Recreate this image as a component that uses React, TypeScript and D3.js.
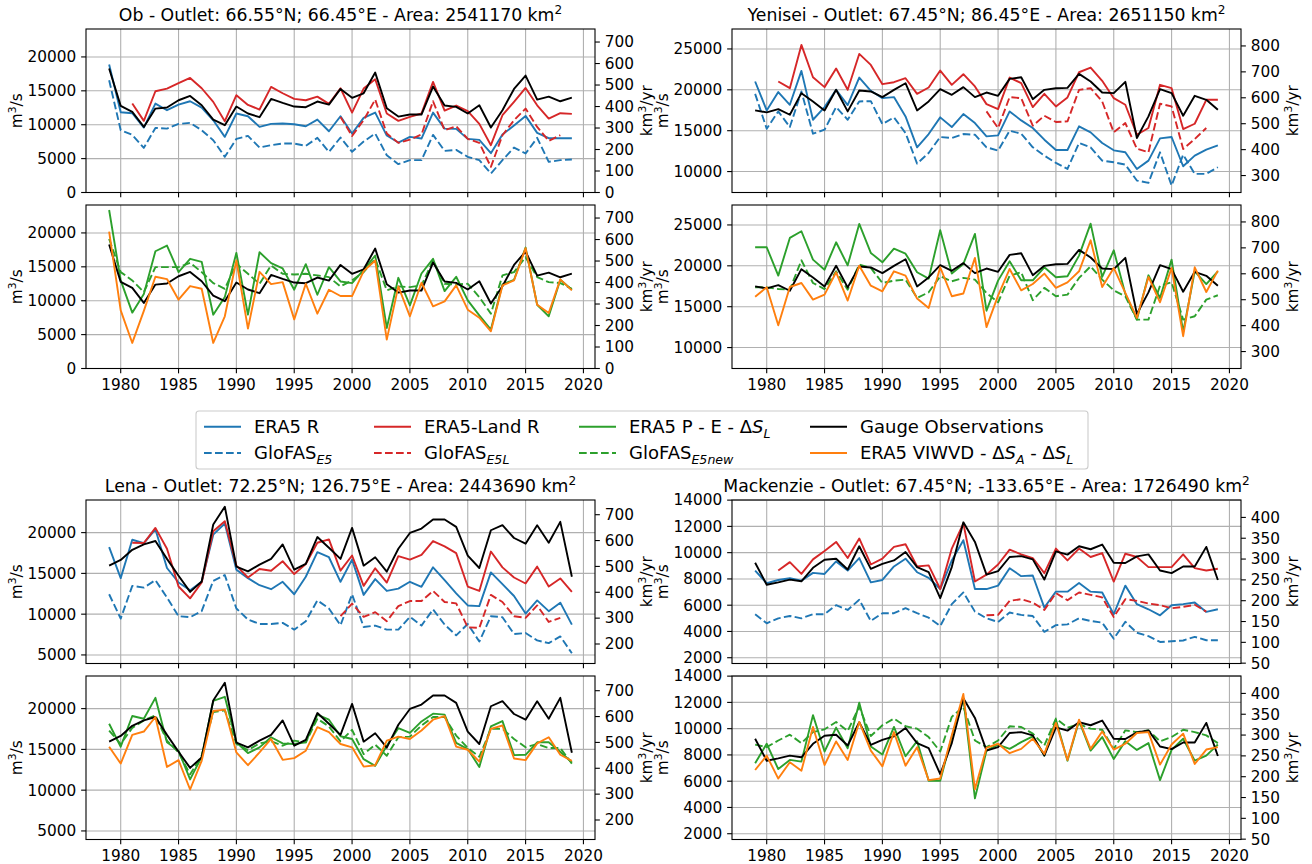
import * as d3 from "d3";

// ---- data, m3/s, 1979-2019 ----
const years = d3.range(1979, 2020);
const xTicks = [1980, 1985, 1990, 1995, 2000, 2005, 2010, 2015, 2020];

// Ob
const obGauge = [18280,12780,11890,9680,12380,12530,13610,14250,12870,10760,9930,12680,11650,11110,13810,13220,12680,12580,13420,12970,15280,13960,14640,17690,12430,11200,11500,11500,15630,12830,12630,11650,12870,9580,12140,15280,17250,13710,14150,13460,14000];
const obEra5R = [18870,11840,11700,9580,13120,12140,12970,13460,12530,10660,8210,11650,11250,9680,10120,10170,10070,9780,10760,9040,11250,8700,11010,11790,8400,7370,8210,7960,11790,9430,9390,7910,7760,5800,8550,9880,11300,8800,8010,8010,8010];
const obEra5LandR = [null,null,13120,10570,14940,15330,16120,16900,15380,13370,10520,14350,12920,12240,15580,14640,13810,13610,14150,13070,15380,11790,15330,16710,11650,10570,11150,11650,16310,12090,12830,11990,10120,6980,11400,13370,15430,12870,10910,11700,11600];
const obGlofasE5 = [16560,9190,8500,6580,9530,9430,10120,10270,9190,7720,5260,7910,8350,6630,6980,7220,7220,6880,8060,6000,8110,6000,7520,8700,5500,4180,4770,4770,8500,6140,6290,5260,4770,2800,4770,6630,5750,8060,4520,4770,4860];
const obGlofasE5L = [11150,8350,10660,13710,8700,7320,7810,8550,13460,9190,9780,7910,7320,3780,8450,10660,12380,9680,7620,8450]; // 1999-2018
const obPE = [23380,12990,8240,11000,17300,18140,14220,16180,15740,7940,10540,17060,7940,17160,15540,14760,11620,15390,10880,14950,12840,12600,14560,16670,5980,13380,9310,14020,16180,11420,13530,10050,7840,5740,12400,13090,17840,9410,7700,13090,11620];
const obGlofasE5new = [19120,14220,12990,11270,14950,14950,14950,15590,14220,12600,11760,15440,13970,12500,15200,13970,13870,13970,13730,13480,12110,12990,14220,16180,11520,12110,12010,12260,15930,12500,12400,12500,10540,8090,13730,14220,16420,13480,12740,12600,11760];
const obViwvd = [20200,8580,3770,8500,13530,13190,10150,12160,11760,3770,7700,15930,5880,14260,12450,12740,7250,12500,8090,11620,10690,10690,14360,15930,4260,12110,7700,12650,9170,9900,12260,8680,7500,5490,12260,12990,17750,9410,8190,13140,11520];

// Yenisei
const yenGauge = [17480,17240,17640,16950,19590,18580,17480,20000,17360,19920,19800,19110,20000,20810,17480,18580,20080,19390,20330,19110,19670,19270,21340,21540,18860,20000,20200,20240,21950,21020,19670,19590,20980,14110,16750,20080,19590,16830,19270,18780,17560];
const yenEra5R = [21020,17480,19720,18170,22320,16340,17890,20000,18130,21500,19880,18980,19110,16750,12970,14590,16630,15450,17030,15930,14310,14430,17360,16260,15330,13900,12640,12640,15530,14800,13500,12600,12360,10320,11340,14060,14230,10650,11950,12680,13210];
const yenEra5LandR = [null,null,21020,20200,25490,21540,20330,22600,20000,24390,23050,20690,20930,21420,19510,20280,22360,20610,21910,20410,18250,17640,21500,20810,17890,19510,17970,19070,22150,22720,21100,18980,18170,14510,15330,20610,20200,15200,15850,18780,18780];
const yenGlofasE5 = [19510,15240,17360,15450,19800,14630,15120,17890,16340,18580,18620,15810,16630,14710,10980,12280,14230,14110,14590,14510,12970,12560,15000,14630,12970,11950,11060,10320,13500,12970,11340,11140,10850,8900,8620,12360,8290,12070,9720,9720,10530];
const yenGlofasE5L = [17360,15330,19110,18980,15610,16830,16060,16140,20000,20200,18580,14800,15930,12800,12360,18290,17970,12760,13980,15330];
const yenPE = [22270,22270,18800,23410,24230,20760,19530,22880,20060,25120,21580,20430,22100,21490,19210,18430,24350,19050,20230,23900,14510,18190,20550,18230,18230,19820,18600,18720,21250,25160,18640,21900,16560,13420,18840,16070,20760,11910,19330,17770,19330];
const yenGlofasE5new = [17370,17370,17160,17080,20680,17900,17160,19330,17080,20150,19740,17900,18190,18310,16070,16760,18720,18110,18520,18310,16680,15540,18800,19210,15790,17300,16280,16480,18520,19940,18310,17000,16280,13420,13420,17570,17980,13420,13830,15870,16400];
const yenViwvd = [16220,17370,12720,17410,17900,15870,16480,19210,15750,20020,17570,16880,19330,18800,15990,14850,19820,16280,16610,20970,12510,16360,19620,17000,17780,19050,17300,17980,19330,23120,17410,19740,16690,13630,18640,15540,19740,11390,19820,16800,19410];

// Lena
const lenaGauge = [15950,16650,17890,18550,18970,16780,14710,12730,14010,20990,23180,15830,15250,16070,16780,18550,15450,16160,19460,18140,16780,20580,15950,16980,15210,18020,19960,20500,21610,21610,20700,17190,15660,20290,20910,19340,18640,20910,18760,21320,14590];
const lenaEra5R = [18220,14420,19130,18720,20410,15660,13880,12930,13970,19750,21120,15450,14420,13550,13060,13970,12440,14590,17600,16980,13970,16690,12360,14300,12850,13140,13970,13350,15740,14170,12560,11070,10990,15120,13680,12230,10080,11690,10370,11410,8720];
const lenaEra5LandR = [null,null,18760,18720,20580,18020,13390,11940,13880,20170,21400,15950,14500,15540,15330,16490,14920,16160,18760,19170,15330,17190,13470,15620,13880,17110,16690,17270,18970,18310,17480,13390,12850,17680,15740,14500,13760,15830,13390,14380,12730];
const lenaGlofasE5 = [12440,9460,13470,13260,14170,12030,9750,9630,10370,14090,14790,10700,9340,8800,8800,8930,8100,9130,11690,10700,8640,12440,8430,8600,8100,8100,9670,8600,10580,8720,7400,8800,6650,9750,9630,7560,7690,6780,6450,7270,5210];
const lenaGlofasE5L = [9750,11280,9670,10250,9130,10990,11610,11610,12850,11490,11320,8390,8310,12360,11490,9750,9550,11070,9050,9550];
const lenaPE = [18140,15330,19090,18760,21320,15870,14840,11320,14090,20950,21450,15870,14550,15250,16490,15740,15660,15870,19260,18640,16610,16280,13800,12980,15450,17600,17020,18430,19380,19260,15790,15040,12850,17810,18470,14300,14340,15870,15870,14710,13390];
const lenaGlofasE5new = [17310,15660,17640,18550,19170,16070,14630,11940,14220,19590,19790,15660,14920,15740,15990,15450,16070,15870,18760,17810,15990,17400,14420,15580,14220,16490,16570,17930,18970,18970,16690,15170,14090,17520,17520,16280,15250,15660,15170,15170,13260];
const lenaViwvd = [15330,13260,16780,17190,18970,12850,13680,10080,13600,19710,19880,14630,13060,14630,16280,13720,13930,14840,17730,17110,15660,15250,12890,13060,16070,16570,16280,17310,18640,19090,15330,14960,13510,17520,17930,13880,13680,15740,16490,14340,13600];

// Mackenzie
const mackGauge = [9230,7560,7740,7950,7820,8850,9460,9540,8720,10490,8770,9150,9410,10050,8900,8510,6540,8900,12310,10820,8330,8590,9670,9740,9490,7950,10100,9850,10490,10260,10620,9230,9210,9720,9870,8640,8440,8950,8950,10440,7920];
const mackEra5R = [8640,7670,7920,8050,7870,8460,8380,9330,8640,9590,7740,7920,8950,9540,8510,8080,7230,9410,10950,7230,7230,7490,8820,8210,8260,5820,7030,7030,7690,7030,6970,5310,7490,6080,5690,5230,6000,6080,6200,5490,5690];
const mackEra5LandR = [null,null,8640,9280,8380,9490,10130,10820,9590,11080,9100,9540,10440,10640,8950,9030,7230,10310,12230,7800,8330,9100,10230,9870,9590,8440,10310,9410,10310,9670,9970,7800,9920,9670,8900,8900,8900,9870,8820,8640,8770];
const mackGlofasE5 = [5310,4620,5000,5180,5000,5310,5310,6000,5640,6410,4800,5390,5390,5770,5390,5050,4410,6080,6970,5510,5000,4720,5440,5260,5180,3970,4480,4540,5000,4800,4670,3440,4740,3900,3640,3200,3250,3310,3590,3330,3330];
const mackGlofasE5L = [5230,5260,6330,6460,6200,5640,6920,6380,6970,6790,6590,5100,6460,6330,6130,6000,5770,5870,6030,5510];
const mackPE = [7360,8850,6920,7620,7490,11030,8260,10080,8510,11970,8640,8030,10130,7900,9050,6030,6030,9360,12310,4690,8330,8790,8460,8970,9410,7950,10690,7560,10590,8330,9360,7690,9050,8380,8900,6080,8380,9230,7560,7950,8790];
const mackGlofasE5new = [8790,8590,9100,9540,8900,9740,9950,10510,9820,11670,9440,10260,10770,10180,10000,9360,8260,10900,11670,9100,8590,9100,10180,10130,9620,8720,10770,10080,10340,10000,9920,8460,9870,9740,9870,9030,9360,9920,9740,9490,8900];
const mackViwvd = [6850,7950,6200,7440,6800,10130,7230,9030,7620,10510,8330,7130,9740,7180,8590,6080,6200,9490,12640,5380,8540,8850,8130,8460,9230,8080,10440,7620,10690,8460,9790,8410,8850,9670,9740,7260,8790,9620,7310,8410,8590];

// ticks
const obTicks = [0, 5000, 10000, 15000, 20000];
const obKmTicks = [0, 100, 200, 300, 400, 500, 600, 700];
const yenTicks = [10000, 15000, 20000, 25000];
const yenKmTicks = [300, 400, 500, 600, 700, 800];
const lenaTicks = [5000, 10000, 15000, 20000];
const lenaKmTicks = [200, 300, 400, 500, 600, 700];
const mackTicks = [2000, 4000, 6000, 8000, 10000, 12000, 14000];
const mackKmTicks = [50, 100, 150, 200, 250, 300, 350, 400];

const K = 0.031536; // m3/s -> km3/yr
const FONT = "DejaVu Sans, sans-serif";
const TICK_FS = 15.3;
const C = { blue: "#1f77b4", red: "#d62728", green: "#2ca02c", orange: "#ff7f0e", black: "#000000" };
const DASH = "7.7,3.3";

// GloFAS E5L only covers 1999-2018
const e5l = (vals: number[]) => years.map((yr) => (yr >= 1999 && yr <= 2018 ? vals[yr - 1999] : null));

type Series = { values: (number | null)[]; color: string; dash?: boolean };

let clipId = 0;

function Panel({ x0, x1, y0, y1, domain, ticks, kmTicks, series, showX }: any) {
  const id = `clip${clipId++}`;
  const x = d3.scaleLinear().domain([1977, 2021]).range([x0, x1]);
  const y = d3.scaleLinear().domain(domain).range([y1, y0]);
  const yk = d3.scaleLinear().domain([domain[0] * K, domain[1] * K]).range([y1, y0]);
  const ln = d3
    .line<number | null>()
    .defined((d) => d != null)
    .x((_, i) => x(years[i]))
    .y((d) => y(d as number));
  const tl = 4.86;
  const maxL = d3.max(ticks, (t: number) => String(t).length) as number;
  const maxR = d3.max(kmTicks, (t: number) => String(t).length) as number;
  const leftLabX = x0 - 2 * tl - maxL * 0.636 * TICK_FS - 5.6;
  const rightLabX = x1 + 2 * tl + maxR * 0.636 * TICK_FS + 5.6 + 12;
  const cy = (y0 + y1) / 2;
  return (
    <g>
      <defs>
        <clipPath id={id}>
          <rect x={x0} y={y0} width={x1 - x0} height={y1 - y0} />
        </clipPath>
      </defs>
      <rect x={x0} y={y0} width={x1 - x0} height={y1 - y0} fill="white" />
      {xTicks.map((t) => (
        <line key={"gx" + t} x1={x(t)} x2={x(t)} y1={y0} y2={y1} stroke="#b0b0b0" strokeWidth={1.1} />
      ))}
      {ticks.map((t: number) => (
        <line key={"gy" + t} x1={x0} x2={x1} y1={y(t)} y2={y(t)} stroke="#b0b0b0" strokeWidth={1.1} />
      ))}
      <g clipPath={`url(#${id})`}>
        {series.map((s: Series, i: number) => (
          <path
            key={i}
            d={ln(s.values) || ""}
            fill="none"
            stroke={s.color}
            strokeWidth={1.9}
            strokeDasharray={s.dash ? DASH : undefined}
            strokeLinejoin="round"
          />
        ))}
      </g>
      <rect x={x0} y={y0} width={x1 - x0} height={y1 - y0} fill="none" stroke="#000" strokeWidth={1.1} />
      {ticks.map((t: number) => (
        <g key={"ly" + t}>
          <line x1={x0 - tl} x2={x0} y1={y(t)} y2={y(t)} stroke="#000" strokeWidth={1.1} />
          <text x={x0 - 2 * tl} y={y(t)} dy="0.35em" textAnchor="end" fontSize={TICK_FS} fontFamily={FONT} fill="#000">
            {t}
          </text>
        </g>
      ))}
      {kmTicks.map((t: number) => (
        <g key={"ry" + t}>
          <line x1={x1} x2={x1 + tl} y1={yk(t)} y2={yk(t)} stroke="#000" strokeWidth={1.1} />
          <text x={x1 + 2 * tl} y={yk(t)} dy="0.35em" textAnchor="start" fontSize={TICK_FS} fontFamily={FONT} fill="#000">
            {t}
          </text>
        </g>
      ))}
      {xTicks.map((t) => (
        <g key={"bx" + t}>
          <line x1={x(t)} x2={x(t)} y1={y1} y2={y1 + tl} stroke="#000" strokeWidth={1.1} />
          {showX && (
            <text x={x(t)} y={y1 + 2 * tl + 11.6} textAnchor="middle" fontSize={TICK_FS} fontFamily={FONT} fill="#000">
              {t}
            </text>
          )}
        </g>
      ))}
      <text
        x={leftLabX}
        y={cy}
        transform={`rotate(-90 ${leftLabX} ${cy})`}
        textAnchor="middle"
        fontSize={TICK_FS}
        fontFamily={FONT}
      >
        m<tspan dy="-6" fontSize="70%">3</tspan>
        <tspan dy="6">/s</tspan>
      </text>
      <text
        x={rightLabX}
        y={cy}
        transform={`rotate(-90 ${rightLabX} ${cy})`}
        textAnchor="middle"
        fontSize={TICK_FS}
        fontFamily={FONT}
      >
        km<tspan dy="-6" fontSize="70%">3</tspan>
        <tspan dy="6">/yr</tspan>
      </text>
    </g>
  );
}

function River({ title, x0, x1, top, domain, ticks, kmTicks, upper, lower }: any) {
  const h = 163.5;
  const gap = 12.5;
  return (
    <g>
      <text x={(x0 + x1) / 2} y={top - 8.3} textAnchor="middle" fontSize={17.3} fontFamily={FONT}>
        {title}
        <tspan dy="-7" fontSize="70%">2</tspan>
      </text>
      <Panel x0={x0} x1={x1} y0={top} y1={top + h} domain={domain} ticks={ticks} kmTicks={kmTicks} series={upper} showX={false} />
      <Panel
        x0={x0}
        x1={x1}
        y0={top + h + gap}
        y1={top + 2 * h + gap}
        domain={domain}
        ticks={ticks}
        kmTicks={kmTicks}
        series={lower}
        showX={true}
      />
    </g>
  );
}

const upperSet = (r: any, l: any, e5: any, e5l_: any, g: any): Series[] => [
  { values: r, color: C.blue },
  { values: e5, color: C.blue, dash: true },
  { values: l, color: C.red },
  { values: e5l(e5l_), color: C.red, dash: true },
  { values: g, color: C.black },
];
const lowerSet = (pe: any, e5new: any, g: any, v: any): Series[] => [
  { values: pe, color: C.green },
  { values: e5new, color: C.green, dash: true },
  { values: g, color: C.black },
  { values: v, color: C.orange },
];

type Part = { t: string; it?: boolean; sub?: boolean };
const legendItems: { color: string; dash?: boolean; parts: Part[] }[][] = [
  [
    { color: C.blue, parts: [{ t: "ERA5 R" }] },
    { color: C.blue, dash: true, parts: [{ t: "GloFAS" }, { t: "E5", it: true, sub: true }] },
  ],
  [
    { color: C.red, parts: [{ t: "ERA5-Land R" }] },
    { color: C.red, dash: true, parts: [{ t: "GloFAS" }, { t: "E5L", it: true, sub: true }] },
  ],
  [
    { color: C.green, parts: [{ t: "ERA5 P - E - Δ" }, { t: "S", it: true }, { t: "L", it: true, sub: true }] },
    { color: C.green, dash: true, parts: [{ t: "GloFAS" }, { t: "E5new", it: true, sub: true }] },
  ],
  [
    { color: C.black, parts: [{ t: "Gauge Observations" }] },
    {
      color: C.orange,
      parts: [
        { t: "ERA5 VIWVD - Δ" },
        { t: "S", it: true },
        { t: "A", it: true, sub: true },
        { t: " - Δ" },
        { t: "S", it: true },
        { t: "L", it: true, sub: true },
      ],
    },
  ],
];
const legendColX = [204, 374, 579, 810];

function Legend() {
  const rows = [426.7, 453];
  return (
    <g>
      <rect x={196} y={411} width={892} height={58} rx={3} fill="white" stroke="#cccccc" strokeWidth={1.1} />
      {legendItems.map((col, ci) =>
        col.map((it, ri) => {
          const lx = legendColX[ci];
          const yy = rows[ri];
          let shifted = false;
          return (
            <g key={ci + "-" + ri}>
              <line
                x1={lx}
                x2={lx + 37}
                y1={yy}
                y2={yy}
                stroke={it.color}
                strokeWidth={1.9}
                strokeDasharray={it.dash ? DASH : undefined}
              />
              <text x={lx + 50} y={yy + 6.4} fontSize={18} fontFamily={FONT} fill="#000">
                {it.parts.map((p, k) => {
                  let dy = 0;
                  if (p.sub && !shifted) {
                    dy = 4.5;
                    shifted = true;
                  } else if (!p.sub && shifted) {
                    dy = -4.5;
                    shifted = false;
                  }
                  return (
                    <tspan
                      key={k}
                      dy={dy || undefined}
                      fontStyle={p.it ? "italic" : undefined}
                      fontSize={p.sub ? "70%" : undefined}
                    >
                      {p.t}
                    </tspan>
                  );
                })}
              </text>
            </g>
          );
        })
      )}
    </g>
  );
}

export default function App() {
  clipId = 0;
  const L = [86, 595];
  const R = [732, 1241];
  return (
    <svg
      width={1312}
      height={864}
      viewBox="0 0 1312 864"
      style={{ position: "absolute", left: 0, top: 0, background: "white" }}
    >
      <rect width={1312} height={864} fill="white" />
      <River
        title="Ob - Outlet: 66.55°N; 66.45°E - Area: 2541170 km"
        x0={L[0]}
        x1={L[1]}
        top={29}
        domain={[0, 24120]}
        ticks={obTicks}
        kmTicks={obKmTicks}
        upper={upperSet(obEra5R, obEra5LandR, obGlofasE5, obGlofasE5L, obGauge)}
        lower={lowerSet(obPE, obGlofasE5new, obGauge, obViwvd)}
      />
      <River
        title="Yenisei - Outlet: 67.45°N; 86.45°E - Area: 2651150 km"
        x0={R[0]}
        x1={R[1]}
        top={29}
        domain={[7440, 27440]}
        ticks={yenTicks}
        kmTicks={yenKmTicks}
        upper={upperSet(yenEra5R, yenEra5LandR, yenGlofasE5, yenGlofasE5L, yenGauge)}
        lower={lowerSet(yenPE, yenGlofasE5new, yenGauge, yenViwvd)}
      />
      <River
        title="Lena - Outlet: 72.25°N; 126.75°E - Area: 2443690 km"
        x0={L[0]}
        x1={L[1]}
        top={500}
        domain={[3950, 24000]}
        ticks={lenaTicks}
        kmTicks={lenaKmTicks}
        upper={upperSet(lenaEra5R, lenaEra5LandR, lenaGlofasE5, lenaGlofasE5L, lenaGauge)}
        lower={lowerSet(lenaPE, lenaGlofasE5new, lenaGauge, lenaViwvd)}
      />
      <River
        title="Mackenzie - Outlet: 67.45°N; -133.65°E - Area: 1726490 km"
        x0={R[0]}
        x1={R[1]}
        top={500}
        domain={[1560, 14010]}
        ticks={mackTicks}
        kmTicks={mackKmTicks}
        upper={upperSet(mackEra5R, mackEra5LandR, mackGlofasE5, mackGlofasE5L, mackGauge)}
        lower={lowerSet(mackPE, mackGlofasE5new, mackGauge, mackViwvd)}
      />
      <Legend />
    </svg>
  );
}
